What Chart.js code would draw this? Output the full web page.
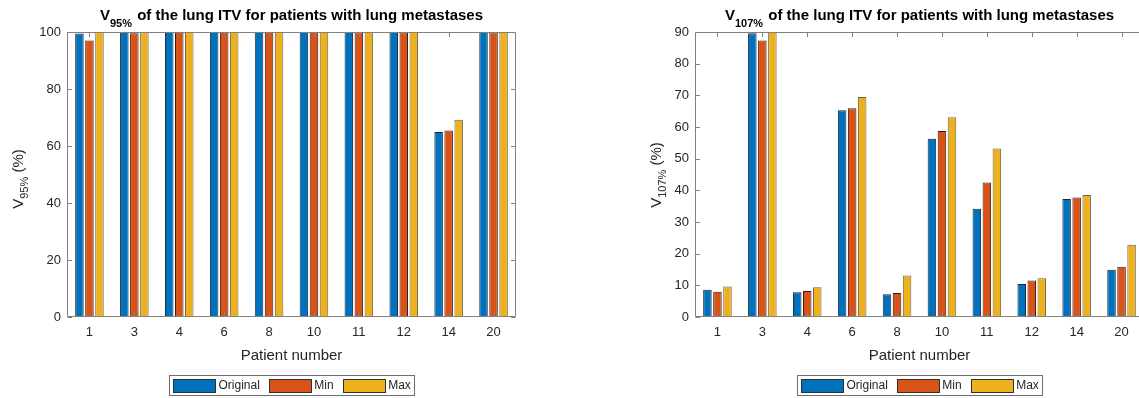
<!DOCTYPE html>
<html>
<head>
<meta charset="utf-8">
<script src="https://cdn.jsdelivr.net/npm/chart.js@4/dist/chart.umd.min.js"></script>
<style>
  html, body { margin: 0; padding: 0; background: #ffffff; overflow: hidden; }
  #wrap { position: relative; width: 1139px; height: 398px; overflow: hidden; }
  canvas { position: absolute; top: 0; }
</style>
</head>
<body>
<div id="wrap">
  <canvas id="v95" width="570" height="398" style="left:0px"></canvas>
  <canvas id="v107" width="582" height="398" style="left:570px"></canvas>
</div>
<script>
// Patient numbers on the category axis
const patients = ['1', '3', '4', '6', '8', '10', '11', '12', '14', '20'];

// Plan variants
const seriesNames = ['Original', 'Min', 'Max'];
const seriesColors = ['#0072BD', '#D95319', '#EDB120'];
const seriesEdges = ['#1c2733', '#3a2014', '#6e6452'];

// V95% of the lung ITV (%)
const v95Original = [99.5, 100, 100, 100, 100, 100, 100, 100, 64.9, 100];
const v95Min      = [97.0, 99.6, 100, 100, 100, 100, 99.9, 99.9, 65.4, 99.9];
const v95Max      = [100, 99.9, 100, 100, 100, 100, 100, 100, 69.2, 100];

// V107% of the lung ITV (%)
const v107Original = [8.6, 89.6, 7.8, 65.3, 7.2, 56.3, 34.2, 10.4, 37.3, 14.9];
const v107Min      = [8.0, 87.3, 8.2, 65.9, 7.6, 58.7, 42.5, 11.5, 37.7, 15.9];
const v107Max      = [9.6, 92.0, 9.4, 69.5, 13.1, 63.1, 53.2, 12.2, 38.5, 22.8];

// Y-axis tick values
const v95Ticks  = [0, 20, 40, 60, 80, 100];
const v107Ticks = [0, 10, 20, 30, 40, 50, 60, 70, 80, 90];

const FONT = "'Liberation Sans', Arial, Helvetica, sans-serif";
const TEXT_COLOR = '#262626';
const AXIS_COLOR = '#808080';
const TICK_LEN = 4.5;

function fontStr(p) {
  return (p.bold ? 'bold ' : '') + p.size + 'px ' + FONT;
}

// Draw a run of text pieces (used for subscripts) along one baseline
function drawRich(ctx, parts, x, y, align) {
  let total = 0;
  parts.forEach(p => {
    ctx.font = fontStr(p);
    p.w = ctx.measureText(p.text).width;
    total += p.w + (p.gap || 0);
  });
  let cx = align === 'center' ? x - total / 2 : x;
  parts.forEach(p => {
    ctx.font = fontStr(p);
    ctx.fillText(p.text, cx, y + (p.dy || 0));
    cx += p.w + (p.gap || 0);
  });
}

// Box, inward ticks, title, axis labels and boxed legend in a MATLAB-like style
const axesDecor = {
  id: 'axesDecor',
  afterDraw(chart, args, opts) {
    const ctx = chart.ctx;
    const a = chart.chartArea;
    const xs = chart.scales.x;
    const ys = chart.scales.y;
    const L = Math.round(a.left) + 0.5, R = Math.round(a.right) - 0.5;
    const T = Math.round(a.top) + 0.5, B = Math.round(a.bottom) - 0.5;
    const cxPlot = (a.left + a.right) / 2;

    ctx.save();
    ctx.strokeStyle = AXIS_COLOR;
    ctx.lineWidth = 1;
    ctx.beginPath();
    ctx.rect(L, T, R - L, B - T);
    xs.ticks.forEach((t, i) => {
      const px = Math.round(xs.getPixelForTick(i)) + 0.5;
      ctx.moveTo(px, B); ctx.lineTo(px, B - TICK_LEN);
      ctx.moveTo(px, T); ctx.lineTo(px, T + TICK_LEN);
    });
    ys.ticks.forEach((t, i) => {
      const py = Math.round(ys.getPixelForTick(i)) + 0.5;
      ctx.moveTo(L, py); ctx.lineTo(L + TICK_LEN, py);
      ctx.moveTo(R, py); ctx.lineTo(R - TICK_LEN, py);
    });
    ctx.stroke();

    ctx.fillStyle = '#000000';
    ctx.textBaseline = 'alphabetic';
    ctx.textAlign = 'left';

    // Title
    drawRich(ctx, [
      { text: 'V', size: 15, bold: true },
      { text: opts.sub, size: 11, bold: true, dy: 6.5, gap: 1 },
      { text: ' of the lung ITV for patients with lung metastases', size: 15, bold: true }
    ], cxPlot, 20, 'center');

    // Y-axis label (rotated)
    ctx.fillStyle = TEXT_COLOR;
    ctx.save();
    ctx.translate(opts.ylabelX, opts.ylabelY);
    ctx.rotate(-Math.PI / 2);
    drawRich(ctx, [
      { text: 'V', size: 15 },
      { text: opts.sub, size: 11, dy: 5 },
      { text: ' (%)', size: 15 }
    ], 0, 0, 'center');
    ctx.restore();

    // X-axis label
    ctx.textAlign = 'center';
    ctx.textBaseline = 'middle';
    ctx.font = '15px ' + FONT;
    ctx.fillText('Patient number', cxPlot, 355.5);

    // Legend
    ctx.textAlign = 'left';
    ctx.font = '12px ' + FONT;
    const pad = 3.5, sw = 42, sh = 13, tgap = 3.5, igap = 9;
    const widths = chart.data.datasets.map(d => ctx.measureText(d.label).width);
    let lw = pad * 2;
    widths.forEach((w, i) => { lw += sw + tgap + w + (i < widths.length - 1 ? igap : 0); });
    const lx = Math.round(cxPlot - lw / 2) + 0.5;
    const ly = 375.5, lh = 20;
    ctx.fillStyle = '#ffffff';
    ctx.fillRect(lx, ly, lw, lh);
    ctx.strokeStyle = '#6e6e6e';
    ctx.strokeRect(lx, ly, Math.round(lw), lh);
    let ix = lx + pad;
    chart.data.datasets.forEach((d, i) => {
      const sy = ly + (lh - sh) / 2;
      ctx.fillStyle = d.backgroundColor;
      ctx.fillRect(Math.round(ix) + 0.5, Math.round(sy) + 0.5, sw, sh);
      ctx.strokeStyle = '#303030';
      ctx.strokeRect(Math.round(ix) + 0.5, Math.round(sy) + 0.5, sw, sh);
      ix += sw + tgap;
      ctx.fillStyle = TEXT_COLOR;
      ctx.textBaseline = 'middle';
      ctx.fillText(d.label, ix, ly + lh / 2 + 0.5);
      ix += widths[i] + igap;
    });
    ctx.restore();
  }
};

function makeChart(id, seriesValues, tickValues, yMax, cfg) {
  const datasets = seriesValues.map((vals, i) => ({
    label: seriesNames[i],
    data: vals,
    backgroundColor: seriesColors[i],
    borderColor: seriesEdges[i],
    borderWidth: 1,
    borderSkipped: false,
    categoryPercentage: 0.67,
    barPercentage: 0.85,
    clip: 0
  }));
  return new Chart(document.getElementById(id), {
    type: 'bar',
    data: { labels: patients, datasets },
    plugins: [axesDecor],
    options: {
      responsive: false,
      animation: false,
      devicePixelRatio: 1,
      events: [],
      layout: { padding: { top: 32, right: cfg.padRight, left: 0, bottom: 0 } },
      plugins: {
        legend: { display: false },
        title: { display: false },
        tooltip: { enabled: false },
        axesDecor: cfg
      },
      scales: {
        x: {
          offset: true,
          grid: { display: false, drawTicks: false },
          border: { display: false },
          ticks: { color: TEXT_COLOR, font: { family: FONT, size: 13 }, padding: 8, maxRotation: 0 },
          afterFit: s => { s.height = 81; }
        },
        y: {
          min: 0,
          max: yMax,
          grid: { display: false, drawTicks: false },
          border: { display: false },
          ticks: { color: TEXT_COLOR, font: { family: FONT, size: 13 }, padding: 6 },
          afterBuildTicks: s => { s.ticks = tickValues.map(v => ({ value: v })); },
          afterFit: s => { s.width = cfg.plotLeft; }
        }
      }
    }
  });
}

makeChart('v95', [v95Original, v95Min, v95Max], v95Ticks, 100,
  { sub: '95%', plotLeft: 67, padRight: 54, ylabelX: 22.5, ylabelY: 179 });
makeChart('v107', [v107Original, v107Min, v107Max], v107Ticks, 90,
  { sub: '107%', plotLeft: 125, padRight: 8, ylabelX: 91, ylabelY: 175 });
</script>
</body>
</html>
